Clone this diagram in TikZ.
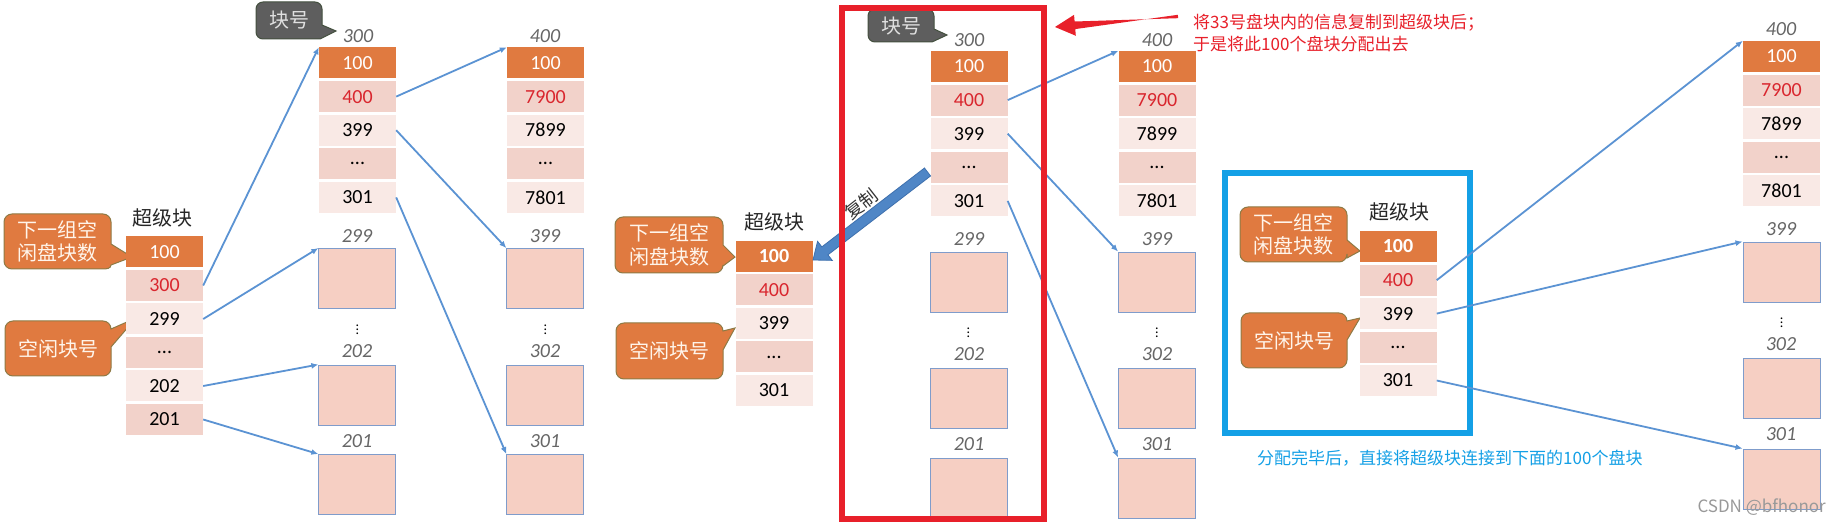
\documentclass[tikz,border=0pt]{standalone}
\usepackage{fontspec}
\setmainfont{Carlito}
\newfontfamily\cjk{Noto Sans CJK SC}
\usetikzlibrary{arrows.meta,calc}
\definecolor{corange}{HTML}{E07A40}
\definecolor{cpink}{HTML}{F2D2CA}
\definecolor{clight}{HTML}{F9E9E5}
\definecolor{cbox}{HTML}{F6CFC3}
\definecolor{cborder}{HTML}{7F9CCB}
\definecolor{carrow}{HTML}{5B93D3}
\definecolor{cred}{HTML}{D9262E}
\definecolor{cbright}{HTML}{E8202A}
\definecolor{cgray}{HTML}{666666}
\definecolor{cbrown}{HTML}{8E7A45}
\definecolor{cdark}{HTML}{5E5E5E}
\definecolor{cdarkline}{HTML}{44503F}
\definecolor{ccyan}{HTML}{14A0E6}
\definecolor{cblock}{HTML}{4F86C6}
\definecolor{cblockline}{HTML}{3E70AE}
\begin{document}
\begin{tikzpicture}[x=1pt,y=-1pt,
  cell/.style={minimum width=77pt, minimum height=31pt, inner sep=0pt, font=\fontsize{20}{24}\selectfont},
  headcell/.style={cell, fill=corange, text=white},
  dk/.style={cell, fill=cpink},
  lt/.style={cell, fill=clight},
  blk/.style={draw=cborder, line width=0.9pt, fill=cbox, minimum width=77pt, minimum height=60pt, inner sep=0pt},
  lbl/.style={font=\fontsize{20}{24}\selectfont\itshape, text=cgray, inner sep=0pt},
  vd/.style={font=\fontsize{14}{14}\selectfont, inner sep=0pt},
  ttl/.style={font=\cjk\fontsize{20}{24}\selectfont, text=black!85, inner sep=0pt},
  link/.style={draw=carrow, line width=1.8pt, -{Latex[length=7pt,width=6pt]}},
  ocall/.style={fill=corange, draw=cbrown, line width=1pt},
  gcall/.style={fill=cdark, draw=cdarkline, line width=1pt},
  ctext/.style={font=\cjk\fontsize{20}{23.5}\selectfont, text=white!92!orange, align=left, inner sep=0pt},
  gtext/.style={font=\cjk\fontsize{20}{24}\selectfont, text=white!88!black, inner sep=0pt}
]
\useasboundingbox[fill=white] (0,0) rectangle (1840,526);

%================ PANEL 1 =================
% callouts
\path[ocall] (12,214) -- (103,214) to[out=0,in=90] (111,222) -- (111,244) -- (132,257) -- (111,265) to[out=-90,in=0] (103,269) -- (12,269) to[out=180,in=-90] (4,261) -- (4,222) to[out=90,in=180] cycle;
\node[ctext] (p1c1) at (57.5,241.5) {下一组空\\闲盘块数};
\path[ocall] (13,321) -- (103,321) to[out=0,in=90] (111,329) -- (136,318) -- (111,347) -- (111,368) to[out=-90,in=0] (103,376) -- (13,376) to[out=180,in=-90] (5,368) -- (5,329) to[out=90,in=180] cycle;
\node[ctext] (p1c2) at (58,348.5) {空闲块号};
\path[gcall] (263,2) -- (315,2) to[out=0,in=90] (322,9) -- (322,25) -- (336,31) -- (320,39) -- (263,39) to[out=180,in=-90] (256,32) -- (256,9) to[out=90,in=180] cycle;
\node[gtext] (p1g) at (289,20.5) {块号};

% super block
\node[ttl] (p1t) at (162,218) {超级块};
\node[headcell] (p1s1) at (164.5,252) {100};
\node[dk,text=cred] (p1s2) at (164.5,285.5) {300};
\node[lt] (p1s3) at (164.5,319) {299};
\node[dk] (p1s4) at (164.5,352.5) {...};
\node[lt] (p1s5) at (164.5,386) {202};
\node[dk] (p1s6) at (164.5,419.5) {201};

% column 300
\node[lbl] (p1l300) at (358,36) {300};
\node[headcell] (p1a1) at (357.5,63) {100};
\node[dk,text=cred] (p1a2) at (357.5,96.6) {400};
\node[lt] (p1a3) at (357.5,130.2) {399};
\node[dk] (p1a4) at (357.5,163.8) {...};
\node[lt] (p1a5) at (357.5,197.4) {301};
% column 400
\node[lbl] (p1l400) at (545,36) {400};
\node[headcell] (p1b1) at (545.5,63) {100};
\node[dk,text=cred] (p1b2) at (545.5,96.6) {7900};
\node[lt] (p1b3) at (545.5,130.2) {7899};
\node[dk] (p1b4) at (545.5,163.8) {...};
\node[lt] (p1b5) at (545.5,197.4) {7801};
% empty blocks
\node[lbl] (p1l299) at (357,236) {299};
\node[blk] (p1x1) at (357.3,278.5) {};
\node[vd] (p1v1) at (357.3,327) {$\vdots$};
\node[lbl] (p1l202) at (357,351) {202};
\node[blk] (p1x2) at (357.3,395) {};
\node[lbl] (p1l201) at (357,441) {201};
\node[blk] (p1x3) at (357.3,484.5) {};
\node[lbl] (p1l399) at (545,236) {399};
\node[blk] (p1y1) at (545.3,278.5) {};
\node[vd] (p1v2) at (545.3,327) {$\vdots$};
\node[lbl] (p1l302) at (545,351) {302};
\node[blk] (p1y2) at (545.3,395) {};
\node[lbl] (p1l301) at (545,441) {301};
\node[blk] (p1y3) at (545.3,484.5) {};
% links
\draw[link] (p1s2.east) -- (p1a1.north west);
\draw[link] (p1s3.east) -- (p1x1.north west);
\draw[link] (p1s5.east) -- (p1x2.north west);
\draw[link] (p1s6.east) -- (p1x3.north west);
\draw[link] (p1a2.east) -- (p1b1.north west);
\draw[link] (p1a3.east) -- (p1y1.north west);
\draw[link] (p1a5.east) -- (p1y3.north west);

%================ PANEL 2 =================
\path[ocall] (623,217) -- (715,217) to[out=0,in=90] (723,225) -- (723,245) -- (735,257) -- (723,266) -- (723,265) to[out=-90,in=0] (715,273) -- (623,273) to[out=180,in=-90] (615,265) -- (615,225) to[out=90,in=180] cycle;
\node[ctext] (p2c1) at (669,245) {下一组空\\闲盘块数};
\path[ocall] (624,323) -- (715,323) to[out=0,in=90] (723,331) -- (735,328) -- (723,350) -- (723,371) to[out=-90,in=0] (715,379) -- (624,379) to[out=180,in=-90] (616,371) -- (616,331) to[out=90,in=180] cycle;
\node[ctext] (p2c2) at (669.5,351) {空闲块号};
\path[gcall] (875,9) -- (927,9) to[out=0,in=90] (934,16) -- (934,29) -- (947,35) -- (932,42) -- (875,42) to[out=180,in=-90] (868,35) -- (868,16) to[out=90,in=180] cycle;
\node[gtext] (p2g) at (901,26) {块号};

\node[ttl] (p2t) at (774,222) {超级块};
\node[headcell,font=\fontsize{20}{24}\selectfont\bfseries] (p2s1) at (774,256.5) {100};
\node[dk,text=cred] (p2s2) at (774,290) {400};
\node[lt] (p2s3) at (774,323.5) {399};
\node[dk] (p2s4) at (774,357) {...};
\node[lt] (p2s5) at (774,390.5) {301};

\node[lbl] (p2l300) at (969,40) {300};
\node[headcell] (p2a1) at (969,66.5) {100};
\node[dk,text=cred] (p2a2) at (969,100.1) {400};
\node[lt] (p2a3) at (969,133.7) {399};
\node[dk] (p2a4) at (969,167.3) {...};
\node[lt] (p2a5) at (969,200.9) {301};
\node[lbl] (p2l400) at (1157,40) {400};
\node[headcell] (p2b1) at (1157,66.5) {100};
\node[dk,text=cred] (p2b2) at (1157,100.1) {7900};
\node[lt] (p2b3) at (1157,133.7) {7899};
\node[dk] (p2b4) at (1157,167.3) {...};
\node[lt] (p2b5) at (1157,200.9) {7801};

\node[lbl] (p2l299) at (969,239) {299};
\node[blk] (p2x1) at (968.5,282) {};
\node[vd] (p2v1) at (968.5,330) {$\vdots$};
\node[lbl] (p2l202) at (969,354) {202};
\node[blk] (p2x2) at (968.5,398) {};
\node[lbl] (p2l201) at (969,444) {201};
\node[blk] (p2x3) at (968.5,488) {};
\node[lbl] (p2l399) at (1157,239) {399};
\node[blk] (p2y1) at (1157,282) {};
\node[vd] (p2v2) at (1157,330) {$\vdots$};
\node[lbl] (p2l302) at (1157,354) {302};
\node[blk] (p2y2) at (1157,398) {};
\node[lbl] (p2l301) at (1157,444) {301};
\node[blk] (p2y3) at (1157,488) {};

\draw[link] (p2a2.east) -- (p2b1.north west);
\draw[link] (p2a3.east) -- (p2y1.north west);
\draw[link] (p2a5.east) -- (p2y3.north west);

% copy block arrow
\coordinate (cpA) at (927.5,172);
\coordinate (cpB) at (813,260);
\coordinate (cpH) at ($(cpB)!15pt!(cpA)$);
\filldraw[fill=cblock, draw=cblockline, line width=0.8pt]
  ($(cpA)!5pt!90:(cpB)$) -- ($(cpH)!5pt!-90:(cpA)$) -- ($(cpH)!12pt!-90:(cpA)$) -- (cpB)
  -- ($(cpH)!12pt!90:(cpA)$) -- ($(cpH)!5pt!90:(cpA)$) -- ($(cpA)!5pt!-90:(cpB)$) -- cycle;
\node[font=\cjk\fontsize{18}{20}\selectfont, text=black!80, rotate=38, inner sep=0pt] (cpT) at (861,204) {复制};

% red frame and note
\node[draw=cbright, line width=6pt, minimum width=202pt, minimum height=511pt, inner sep=0pt] (redbox) at (943,263.5) {};
\node[font=\cjk\fontsize{17}{21}\selectfont, text=cbright, anchor=west, inner sep=0pt] (note1) at (1193,23) {将33号盘块内的信息复制到超级块后；};
\node[font=\cjk\fontsize{17}{21}\selectfont, text=cbright, anchor=west, inner sep=0pt] (note2) at (1193,44) {于是将此100个盘块分配出去};
\coordinate (rtail) at (1178,16.5);
\coordinate (rtip) at (1055,27);
\fill[cbright] ($(rtail)!1.7pt!90:(rtip)$) -- ($(rtail)!1.7pt!-90:(rtip)$) -- ($($(rtip)!20pt!(rtail)$)!3.8pt!90:(rtip)$) -- ($($(rtip)!20pt!(rtail)$)!10.5pt!90:(rtip)$) -- (rtip) -- ($($(rtip)!20pt!(rtail)$)!10.5pt!-90:(rtip)$) -- ($($(rtip)!20pt!(rtail)$)!3.8pt!-90:(rtip)$) -- cycle;

%================ PANEL 3 =================
\path[ocall] (1248,207) -- (1339,207) to[out=0,in=90] (1347,215) -- (1347,240) -- (1360,251) -- (1347,258) -- (1347,254) to[out=-90,in=0] (1339,262) -- (1248,262) to[out=180,in=-90] (1240,254) -- (1240,215) to[out=90,in=180] cycle;
\node[ctext] (p3c1) at (1293.5,234.5) {下一组空\\闲盘块数};
\path[ocall] (1249,313) -- (1339,313) to[out=0,in=90] (1347,321) -- (1360,318) -- (1347,340) -- (1347,360) to[out=-90,in=0] (1339,368) -- (1249,368) to[out=180,in=-90] (1241,360) -- (1241,321) to[out=90,in=180] cycle;
\node[ctext] (p3c2) at (1294,340.5) {空闲块号};

\node[ttl] (p3t) at (1399,212) {超级块};
\node[headcell,font=\fontsize{20}{24}\selectfont\bfseries] (p3s1) at (1398,246.5) {100};
\node[dk,text=cred] (p3s2) at (1398,280.2) {400};
\node[lt] (p3s3) at (1398,313.6) {399};
\node[dk] (p3s4) at (1398,347.3) {...};
\node[lt] (p3s5) at (1398,380.5) {301};

\node[lbl] (p3l400) at (1781,29) {400};
\node[headcell] (p3b1) at (1781.5,56.5) {100};
\node[dk,text=cred] (p3b2) at (1781.5,90.1) {7900};
\node[lt] (p3b3) at (1781.5,123.7) {7899};
\node[dk] (p3b4) at (1781.5,157.3) {...};
\node[lt] (p3b5) at (1781.5,190.9) {7801};
\node[lbl] (p3l399) at (1781,229) {399};
\node[blk] (p3y1) at (1781.5,272) {};
\node[vd] (p3v) at (1781.5,320) {$\vdots$};
\node[lbl] (p3l302) at (1781,344) {302};
\node[blk] (p3y2) at (1781.5,388) {};
\node[lbl] (p3l301) at (1781,434) {301};
\node[blk] (p3y3) at (1781.5,479) {};

\node[draw=ccyan, line width=6pt, minimum width=245pt, minimum height=260pt, inner sep=0pt] (bluebox) at (1347.5,303) {};
\draw[link] (p3s2.east) -- (p3b1.north west);
\draw[link] (p3s3.east) -- (p3y1.north west);
\draw[link] (p3s5.east) -- (p3y3.north west);
\node[font=\cjk\fontsize{17}{21}\selectfont, text=ccyan, anchor=west, inner sep=0pt] (bnote) at (1257,458) {分配完毕后，直接将超级块连接到下面的100个盘块};

\node[font=\cjk\fontsize{17}{20}\selectfont, text=black!40, anchor=east, inner sep=0pt] (wm) at (1826,507) {CSDN @bfhonor};
\end{tikzpicture}
\end{document}
